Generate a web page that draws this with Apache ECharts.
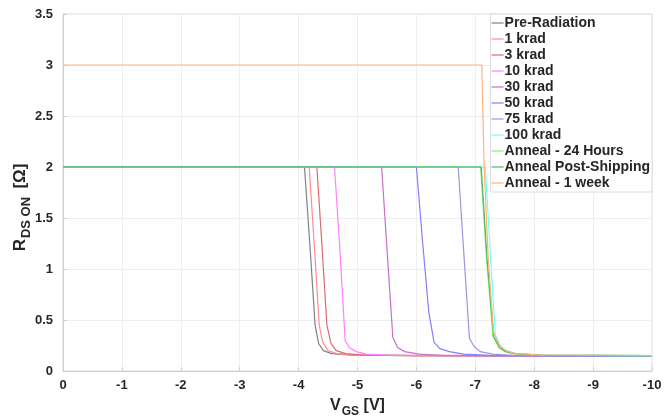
<!DOCTYPE html>
<html>
<head>
<meta charset="utf-8">
<script src="https://cdn.jsdelivr.net/npm/echarts@6/dist/echarts.min.js"></script>
<style>
html,body{margin:0;padding:0;background:#fff;}
#c{width:665px;height:420px;}
</style>
</head>
<body>
<div id="c"></div>
<script>
// ---- data (V_GS [V], R_DS ON [Ohm]) ----
const seriesNames = ['Pre-Radiation','1 krad','3 krad','10 krad','30 krad','50 krad','75 krad','100 krad','Anneal - 24 Hours','Anneal Post-Shipping','Anneal - 1 week'];
const xTicks = [0,-1,-2,-3,-4,-5,-6,-7,-8,-9,-10];
const yTicks = [0,0.5,1,1.5,2,2.5,3,3.5];

const preRad   = [[0,2],[-4.10,2],[-4.19,1.25],[-4.28,0.45],[-4.34,0.27],[-4.42,0.2],[-4.56,0.17],[-4.9,0.155],[-6,0.15],[-10,0.148]];
const krad1    = [[0,2],[-4.18,2],[-4.27,1.2],[-4.35,0.45],[-4.41,0.28],[-4.5,0.2],[-4.65,0.17],[-5,0.155],[-6,0.15],[-10,0.148]];
const krad3    = [[0,2],[-4.31,2],[-4.4,1.2],[-4.48,0.45],[-4.55,0.27],[-4.64,0.2],[-4.8,0.17],[-5.1,0.155],[-6,0.15],[-10,0.148]];
const krad10   = [[0,2],[-4.61,2],[-4.7,1.2],[-4.79,0.3],[-4.86,0.23],[-4.98,0.19],[-5.15,0.165],[-5.5,0.155],[-10,0.148]];
const krad30   = [[0,2],[-5.41,2],[-5.5,1.2],[-5.6,0.33],[-5.68,0.23],[-5.8,0.19],[-6.05,0.165],[-6.5,0.15],[-10,0.145]];
const krad50   = [[0,2],[-6.0,2],[-6.1,1.3],[-6.21,0.58],[-6.3,0.28],[-6.4,0.22],[-6.56,0.19],[-6.8,0.165],[-7.3,0.15],[-10,0.145]];
const krad75   = [[0,2],[-6.71,2],[-6.8,1.2],[-6.9,0.32],[-6.98,0.24],[-7.08,0.19],[-7.3,0.165],[-7.7,0.15],[-10,0.145]];
const krad100  = [[0,2],[-7.17,2],[-7.26,1.1],[-7.34,0.36],[-7.42,0.25],[-7.52,0.2],[-7.7,0.17],[-8.1,0.155],[-10,0.15]];
const ann24    = [[0,2],[-7.09,2],[-7.19,1.1],[-7.3,0.34],[-7.4,0.23],[-7.5,0.19],[-7.65,0.17],[-8.1,0.155],[-10,0.15]];
const annShip  = [[0,2],[-7.1,2],[-7.2,1.1],[-7.31,0.34],[-7.41,0.23],[-7.52,0.19],[-7.67,0.17],[-8.1,0.155],[-10,0.15]];
const ann1wk   = [[0,3],[-7.11,3],[-7.15,2],[-7.22,1.1],[-7.31,0.38],[-7.41,0.25],[-7.52,0.2],[-7.68,0.17],[-8.1,0.157],[-10,0.152]];

const seriesData = [preRad,krad1,krad3,krad10,krad30,krad50,krad75,krad100,ann24,annShip,ann1wk];
const colors = ['#808080','#ff8c8c','#e06a6a','#ff80ff','#c670c6','#7f7fff','#9898e0','#70ffff','#80f080','#5fb05f','#ffb375'];

const FONT = '"Liberation Sans", Arial, sans-serif';
const chart = echarts.init(document.getElementById('c'), null, {renderer:'canvas'});
const nameRich = {
  b:{fontFamily:FONT,fontWeight:'bold',fontSize:16,color:'#262626',verticalAlign:'top',lineHeight:20},
  s:{fontFamily:FONT,fontWeight:'bold',fontSize:12,color:'#262626',verticalAlign:'bottom',lineHeight:20,padding:[9,0,0,1]}
};
const nameRichY = {
  b:{fontFamily:FONT,fontWeight:'bold',fontSize:17,color:'#262626',verticalAlign:'top',lineHeight:21},
  s:{fontFamily:FONT,fontWeight:'bold',fontSize:13,color:'#262626',verticalAlign:'bottom',lineHeight:21,padding:[9,0,0,1]}
};
chart.setOption({
  animation:false,
  backgroundColor:'#fff',
  color: colors,
  grid:{left:63,right:13,top:14,bottom:49,show:true,borderColor:'#dcdcdc',borderWidth:1,backgroundColor:'transparent',
        containLabel:false, outerBoundsMode:'none'},
  legend:{
    orient:'vertical', right:13, top:14,
    data: seriesNames,
    selectedMode:false,
    backgroundColor:'#fff', borderColor:'#dcdcdc', borderWidth:1,
    padding:[2,2,2,1],
    itemWidth:12, itemHeight:8, itemGap:2,
    icon:'path://M0,4 L10,4 L10,5 L0,5 Z',
    textStyle:{fontFamily:FONT,fontWeight:'bold',fontSize:14,color:'#262626',lineHeight:14,padding:[0,0,0,-4]}
  },
  xAxis:{
    type:'value', inverse:true, min:-10, max:0, interval:1,
    name:'{b|V}{s|GS}{b| [V]}', nameLocation:'middle', nameGap:27,
    nameTextStyle:{rich:nameRich},
    axisLine:{show:true,lineStyle:{color:'#cfcfcf'}},
    axisTick:{show:true,inside:true,length:4,lineStyle:{color:'#cfcfcf'}},
    splitLine:{show:true,lineStyle:{color:'#eeeeee'}},
    axisLabel:{fontFamily:FONT,fontWeight:'bold',fontSize:13,color:'#262626',margin:8,
      formatter:function(v){return String(v);}}
  },
  yAxis:{
    type:'value', min:0, max:3.5, interval:0.5,
    name:'{b|R}{s|DS ON }{b| [Ω]}', nameLocation:'middle', nameGap:30, nameRotate:90,
    nameMoveOverlap:false,
    nameTextStyle:{rich:nameRichY, padding:[0,30,0,0]},
    axisLine:{show:true,lineStyle:{color:'#cfcfcf'}},
    axisTick:{show:true,inside:true,length:4,lineStyle:{color:'#cfcfcf'}},
    splitLine:{show:true,lineStyle:{color:'#eeeeee'}},
    axisLabel:{fontFamily:FONT,fontWeight:'bold',fontSize:13,color:'#262626',margin:10}
  },
  series: seriesNames.map(function(n,i){
    return {name:n,type:'line',data:seriesData[i],symbol:'none',smooth:false,
      lineStyle:{width:1.2,color:colors[i]},itemStyle:{color:colors[i]},z:2+i};
  })
});
</script>
</body>
</html>
